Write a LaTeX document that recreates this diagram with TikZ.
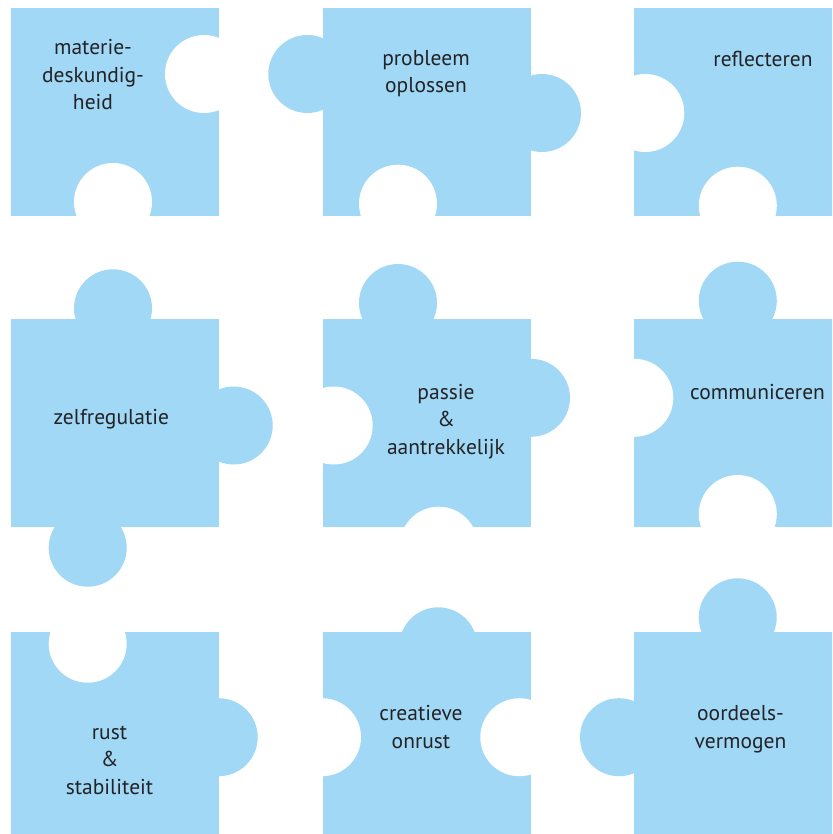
\documentclass[tikz,border=0pt]{standalone}
\usepackage{fontspec}
\setmainfont{PT Sans}
\usetikzlibrary{positioning}
\definecolor{puzzle}{RGB}{160,216,245}
\definecolor{ink}{RGB}{35,35,38}
\tikzset{
    tile/.style={fill=puzzle, draw=none, minimum size=208pt, inner sep=0pt, anchor=north west},
    knob/.style={fill=puzzle},
    gap/.style={fill=white},
    word/.style={text=ink, font=\fontsize{21.5}{27.5}\selectfont, align=center, anchor=base, inner sep=0pt}
}

\begin{document}
\begin{tikzpicture}[x=1pt, y=-1pt]
    \def \R {39pt}
    \useasboundingbox (0,0) rectangle (832,834);
    \clip (0,0) rectangle (832,834);
    % row 1
    \node[tile] (p1) at (11,8) {};
    \node[tile] (p2) at (322.5,8) {};
    \node[tile] (p3) at (634,8) {};
    \fill[knob] (307.3,74) circle (\R);
    \fill[knob] (542,113) circle (\R);
    \fill[gap] (204,74) circle (\R);
    \fill[gap] (113,202) circle (\R);
    \fill[gap] (398,203.7) circle (\R);
    \fill[gap] (645.3,113) circle (\R);
    \fill[gap] (737.8,205.7) circle (\R);
    % row 2
    \node[tile] (p4) at (11,319) {};
    \node[tile] (p5) at (322.5,319) {};
    \node[tile] (p6) at (634,319) {};
    \fill[knob] (113,308.3) circle (\R);
    \fill[knob] (233.7,425.5) circle (\R);
    \fill[knob] (87.7,547.7) circle (\R);
    \fill[knob] (398,303) circle (\R);
    \fill[knob] (531,397.8) circle (\R);
    \fill[knob] (737.8,300.7) circle (\R);
    \fill[gap] (333.7,425.5) circle (\R);
    \fill[gap] (438.8,545.7) circle (\R);
    \fill[gap] (634.3,397.8) circle (\R);
    \fill[gap] (737.8,514) circle (\R);
    % row 3
    \node[tile] (p7) at (11,632) {};
    \node[tile] (p8) at (322.5,632) {};
    \node[tile] (p9) at (634,632) {};
    \fill[knob] (218.7,737.2) circle (\R);
    \fill[knob] (438.3,646.3) circle (\R);
    \fill[knob] (737.7,617.3) circle (\R);
    \fill[knob] (619,737.2) circle (\R);
    \fill[gap] (87.7,643.7) circle (\R);
    \fill[gap] (322,737.2) circle (\R);
    \fill[gap] (519.3,737.2) circle (\R);
    % texts (anchored at the baseline of the last line)
    \node[word] (t1) at (93,110) {materie-\\deskundig-\\heid};
    \node[word] (t2) at (426,93) {probleem\\oplossen};
    \node[word] (t3) at (763,66.7) {reflecteren};
    \node[word] (t4) at (111.3,424) {zelfregulatie};
    \node[word] (t5) at (446,454) {passie\\\&\\aantrekkelijk};
    \node[word] (t6) at (757.5,399) {communiceren};
    \node[word] (t7) at (109.5,794) {rust\\\&\\stabiliteit};
    \node[word] (t8) at (421,748.3) {creatieve\\onrust};
    \node[word] (t9) at (740.5,748.3) {oordeels-\\vermogen};
\end{tikzpicture}
\end{document}
